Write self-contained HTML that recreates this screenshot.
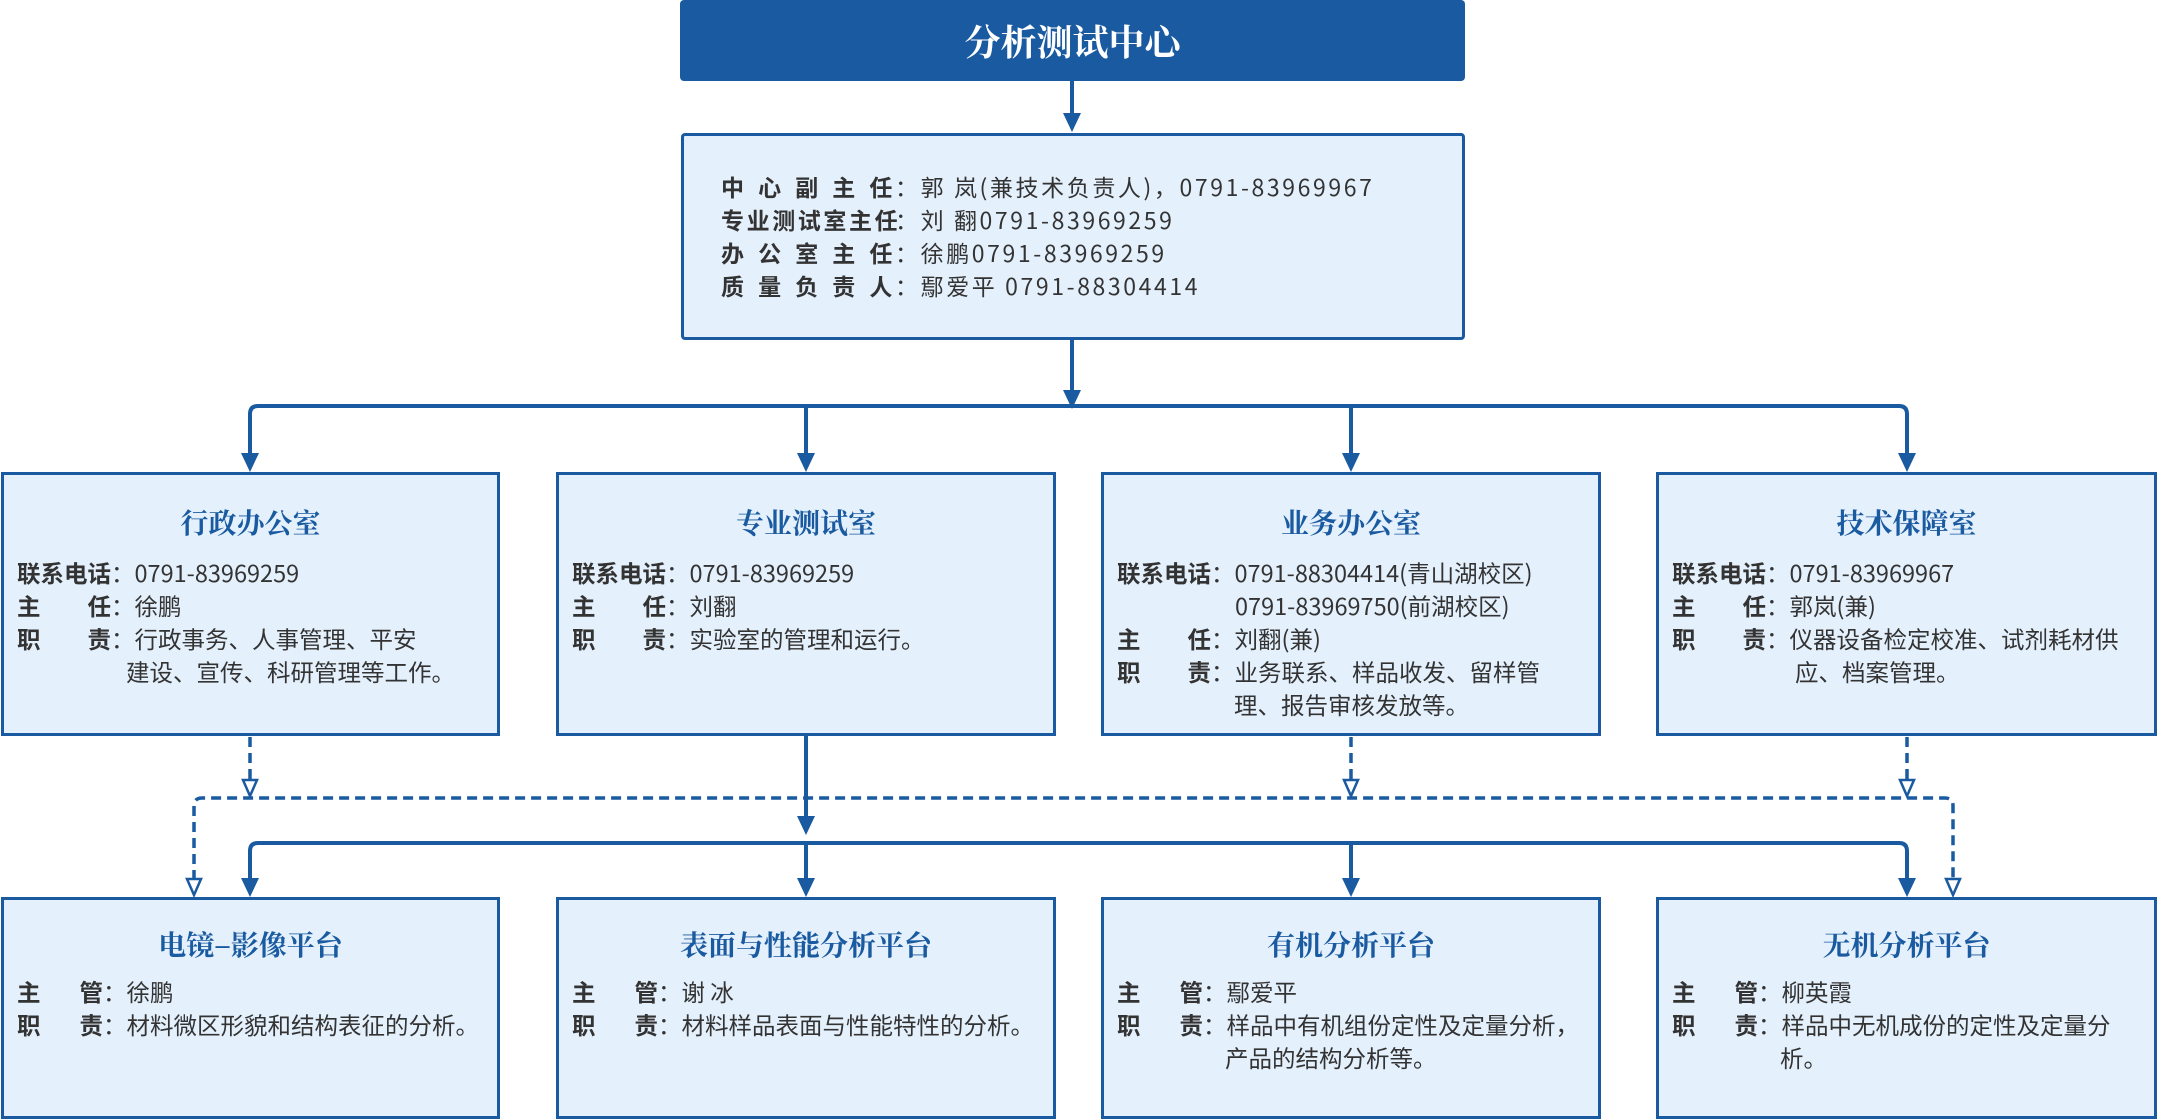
<!DOCTYPE html>
<html><head><meta charset="utf-8"><style>
*{margin:0;padding:0;box-sizing:border-box}
body{width:2157px;height:1119px;background:#fff;position:relative;overflow:hidden;font-family:"Noto Sans CJK SC","Liberation Sans",sans-serif;color:#333}
.box{position:absolute;background:#e4f0fc;border:3px solid #1a5aa0}
.title{position:absolute;left:680px;top:0;width:785px;height:81px;background:#1a5aa0;border-radius:4px;color:#fff;font-family:"Noto Serif CJK SC",serif;font-weight:bold;font-size:36px;text-align:center;line-height:81px}
.h{position:absolute;left:0;right:0;text-align:center;color:#1a5aa0;font-family:"Noto Serif CJK SC",serif;font-weight:bold;font-size:28px;line-height:34px}
.ln{position:absolute;font-size:23.5px;line-height:33px;white-space:nowrap}
.lb{display:inline-block;font-weight:bold;color:#333;text-align-last:justify;text-align:justify}
.info{position:absolute;left:721px;font-size:23px;line-height:33px;white-space:nowrap;letter-spacing:2.6px}
.info .lb{width:174px}
svg{position:absolute;left:0;top:0}
</style></head><body>
<svg width="2157" height="1119">
<g stroke="#1a5aa0" stroke-width="4" fill="none">
<path d="M1072 81V118"/>
<path d="M1072 340V396"/>
<path d="M250 468V414Q250 406 258 406H1899Q1907 406 1907 414V468"/>
<path d="M806 406V458M1351 406V458"/>
<path d="M806 735V824"/>
<path d="M250 893V851Q250 843 258 843H1899Q1907 843 1907 851V893"/>
<path d="M806 843V882M1351 843V882"/>
<g stroke-dasharray="10 6" stroke-width="3.5">
<path d="M250 737V780M1351 737V780M1907 737V780"/>
<path d="M194 880V806Q194 798 202 798H1945Q1953 798 1953 806V880"/>
</g>
</g>
<g fill="#1a5aa0">
<path d="M1063 113H1081L1072 132Z"/>
<path d="M1063 390H1081L1072 409Z"/>
<path d="M241 453H259L250 472Z"/><path d="M797 453H815L806 472Z"/><path d="M1342 453H1360L1351 472Z"/><path d="M1898 453H1916L1907 472Z"/>
<path d="M797 816H815L806 835Z"/>
<path d="M241 878H259L250 897Z"/><path d="M797 878H815L806 897Z"/><path d="M1342 878H1360L1351 897Z"/><path d="M1898 878H1916L1907 897Z"/>
</g>
<g fill="#fff" stroke="#1a5aa0" stroke-width="2.5">
<path d="M243 780H257L250 796Z"/><path d="M1344 780H1358L1351 796Z"/><path d="M1900 780H1914L1907 796Z"/>
<path d="M187 879H201L194 895Z"/><path d="M1946 879H1960L1953 895Z"/>
</g>
</svg>
<div class="title">分析测试中心</div>
<div class="box" style="left:681px;top:133px;width:784px;height:207px;border-radius:4px"></div>
<div class="info" style="top:170px"><span class="lb">中心副主任</span>：郭 岚(兼技术负责人)，0791-83969967</div>
<div class="info" style="top:203px"><span class="lb">专业测试室主任</span>：刘 翻0791-83969259</div>
<div class="info" style="top:236px"><span class="lb">办公室主任</span>：徐鹏0791-83969259</div>
<div class="info" style="top:269px"><span class="lb">质量负责人</span>：鄢爱平 0791-88304414</div>

<div class="box" style="left:1px;top:472px;width:499px;height:264px">
<div class="h" style="top:30px">行政办公室</div>
<div class="ln" style="left:13px;top:81px"><span class="lb" style="width:94px">联系电话</span>：0791-83969259</div>
<div class="ln" style="left:13px;top:114px"><span class="lb" style="width:94px">主任</span>：徐鹏</div>
<div class="ln" style="left:13px;top:147px"><span class="lb" style="width:94px">职责</span>：行政事务、人事管理、平安</div>
<div class="ln" style="left:122px;top:180px">建设、宣传、科研管理等工作。</div>
</div>
<div class="box" style="left:556px;top:472px;width:500px;height:264px">
<div class="h" style="top:30px">专业测试室</div>
<div class="ln" style="left:13px;top:81px"><span class="lb" style="width:94px">联系电话</span>：0791-83969259</div>
<div class="ln" style="left:13px;top:114px"><span class="lb" style="width:94px">主任</span>：刘翻</div>
<div class="ln" style="left:13px;top:147px"><span class="lb" style="width:94px">职责</span>：实验室的管理和运行。</div>
</div>
<div class="box" style="left:1101px;top:472px;width:500px;height:264px">
<div class="h" style="top:30px">业务办公室</div>
<div class="ln" style="left:13px;top:81px"><span class="lb" style="width:94px">联系电话</span>：0791-88304414(青山湖校区)</div>
<div class="ln" style="left:131px;top:114px">0791-83969750(前湖校区)</div>
<div class="ln" style="left:13px;top:147px"><span class="lb" style="width:94px">主任</span>：刘翻(兼)</div>
<div class="ln" style="left:13px;top:180px"><span class="lb" style="width:94px">职责</span>：业务联系、样品收发、留样管</div>
<div class="ln" style="left:130px;top:213px">理、报告审核发放等。</div>
</div>
<div class="box" style="left:1656px;top:472px;width:501px;height:264px">
<div class="h" style="top:30px">技术保障室</div>
<div class="ln" style="left:13px;top:81px"><span class="lb" style="width:94px">联系电话</span>：0791-83969967</div>
<div class="ln" style="left:13px;top:114px"><span class="lb" style="width:94px">主任</span>：郭岚(兼)</div>
<div class="ln" style="left:13px;top:147px"><span class="lb" style="width:94px">职责</span>：仪器设备检定校准、试剂耗材供</div>
<div class="ln" style="left:136px;top:180px">应、档案管理。</div>
</div>

<div class="box" style="left:1px;top:897px;width:499px;height:222px">
<div class="h" style="top:27px">电镜–影像平台</div>
<div class="ln" style="left:13px;top:75px"><span class="lb" style="width:86px">主管</span>：徐鹏</div>
<div class="ln" style="left:13px;top:108px"><span class="lb" style="width:86px">职责</span>：材料微区形貌和结构表征的分析。</div>
</div>
<div class="box" style="left:556px;top:897px;width:500px;height:222px">
<div class="h" style="top:27px">表面与性能分析平台</div>
<div class="ln" style="left:13px;top:75px"><span class="lb" style="width:86px">主管</span>：谢 冰</div>
<div class="ln" style="left:13px;top:108px"><span class="lb" style="width:86px">职责</span>：材料样品表面与性能特性的分析。</div>
</div>
<div class="box" style="left:1101px;top:897px;width:500px;height:222px">
<div class="h" style="top:27px">有机分析平台</div>
<div class="ln" style="left:13px;top:75px"><span class="lb" style="width:86px">主管</span>：鄢爱平</div>
<div class="ln" style="left:13px;top:108px"><span class="lb" style="width:86px">职责</span>：样品中有机组份定性及定量分析，</div>
<div class="ln" style="left:121px;top:141px">产品的结构分析等。</div>
</div>
<div class="box" style="left:1656px;top:897px;width:501px;height:222px">
<div class="h" style="top:27px">无机分析平台</div>
<div class="ln" style="left:13px;top:75px"><span class="lb" style="width:86px">主管</span>：柳英霞</div>
<div class="ln" style="left:13px;top:108px"><span class="lb" style="width:86px">职责</span>：样品中无机成份的定性及定量分</div>
<div class="ln" style="left:121px;top:141px">析。</div>
</div>
</body></html>
